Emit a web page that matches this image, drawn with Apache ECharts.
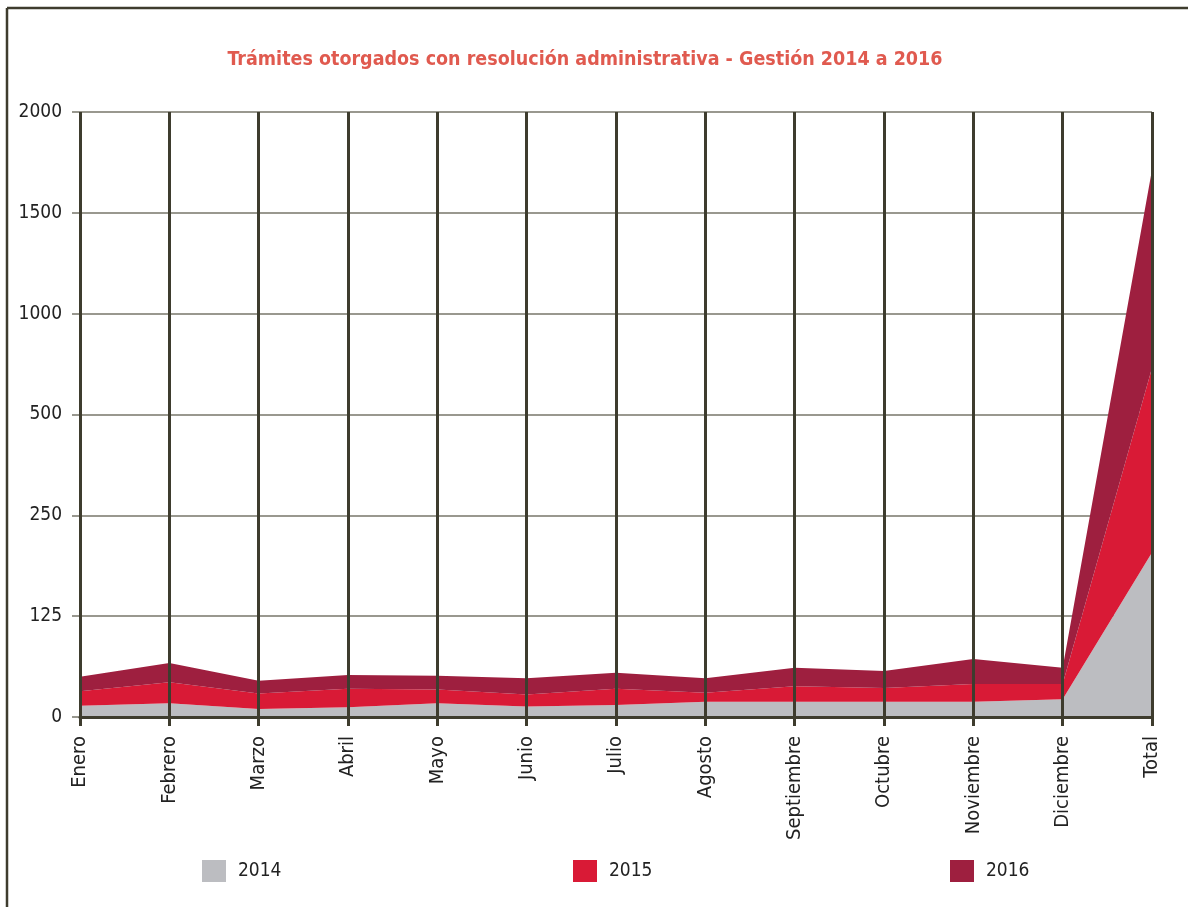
<!DOCTYPE html>
<html>
<head>
<meta charset="utf-8">
<script src="https://cdn.jsdelivr.net/npm/echarts@6/dist/echarts.min.js"></script>
<style>
  html, body { margin: 0; padding: 0; background: #fff; }
  #box { width: 1188px; height: 907px; }
</style>
</head>
<body>
<div id="box"></div>
<script>
var meses = ['Enero', 'Febrero', 'Marzo', 'Abril', 'Mayo', 'Junio', 'Julio', 'Agosto',
    'Septiembre', 'Octubre', 'Noviembre', 'Diciembre', 'Total']

// valores de cada año (banda apilada)
var v2014 = [14, 17, 10, 12, 17, 13, 15, 19, 19, 19, 19, 22, 204]
var v2015 = [18, 26, 19, 23, 17, 15, 20, 11, 19, 17, 22, 19, 526]
var v2016 = [18, 24, 16, 17, 17, 20, 20, 18, 23, 21, 31, 20, 984]

// marcas del eje vertical (no lineal, espaciado igual)
var ticksY = [0, 125, 250, 500, 1000, 1500, 2000]

var fuente = "'Liberation Sans Narrow', 'DejaVu Sans Condensed', sans-serif"

// valor -> posicion en el eje por tramos
function escala(v) {
    for (var i = 1; i < ticksY.length; i++) {
        if (v <= ticksY[i]) {
            return (i - 1) + (v - ticksY[i - 1]) / (ticksY[i] - ticksY[i - 1])
        }
    }
    return ticksY.length - 1
}

var s1 = [], s2 = [], s3 = []
for (var i = 0; i < meses.length; i++) {
    var a = v2014[i], b = a + v2015[i], c = b + v2016[i]
    s1.push(escala(a))
    s2.push(escala(b) - escala(a))
    s3.push(escala(c) - escala(b))
}

function serie(nombre, datos, color) {
    return {
        name: nombre,
        type: 'line',
        stack: 'total',
        data: datos,
        symbol: 'none',
        lineStyle: { width: 0 },
        itemStyle: { color: color },
        areaStyle: { color: color, opacity: 1 }
    }
}

function leyenda(nombre, x) {
    return {
        data: [nombre],
        left: x,
        top: 860,
        padding: 0,
        itemWidth: 24,
        itemHeight: 22,
        icon: 'rect',
        textStyle: { color: '#222', fontSize: 19, fontFamily: fuente, padding: [0, 0, 0, 7] }
    }
}

var chart = echarts.init(document.getElementById('box'))

chart.setOption({
    animation: false,
    title: {
        text: 'Trámites otorgados con resolución administrativa - Gestión 2014 a 2016',
        left: 580,
        textAlign: 'center',
        top: 45,
        textStyle: { color: '#e05a4f', fontSize: 19.5, fontWeight: 'bold', fontFamily: fuente }
    },
    legend: [
        leyenda('2014', 202),
        leyenda('2015', 573),
        leyenda('2016', 950)
    ],
    grid: {
        left: 80,
        right: 36,
        top: 112,
        bottom: 190
    },
    xAxis: {
        type: 'category',
        data: meses,
        boundaryGap: false,
        z: 10,
        axisLine: { lineStyle: { color: '#3e3c2e', width: 3 } },
        axisTick: { show: true, length: 9, lineStyle: { color: '#3e3c2e', width: 3 } },
        splitLine: { show: true, lineStyle: { color: '#3e3c2e', width: 3 } },
        axisLabel: {
            rotate: 90,
            margin: 19,
            color: '#222',
            fontSize: 20,
            fontFamily: fuente,
            interval: 0
        }
    },
    yAxis: {
        type: 'value',
        min: 0,
        max: ticksY.length - 1,
        interval: 1,
        axisLine: { show: false },
        axisTick: { show: true, length: 8, lineStyle: { color: '#77766a', width: 1.5 } },
        splitLine: { lineStyle: { color: '#77766a', width: 1.5 } },
        axisLabel: {
            margin: 18,
            color: '#222',
            fontSize: 19,
            fontFamily: fuente,
            formatter: function (v) { return ticksY[Math.round(v)] }
        }
    },
    graphic: [
        { type: 'line', shape: { x1: 7, y1: 8, x2: 7, y2: 907 }, style: { stroke: '#3e3c2e', lineWidth: 2.5 } },
        { type: 'line', shape: { x1: 7, y1: 8, x2: 1188, y2: 8 }, style: { stroke: '#3e3c2e', lineWidth: 2.5 } }
    ],
    series: [
        serie('2014', s1, '#bcbdc1'),
        serie('2015', s2, '#d91a36'),
        serie('2016', s3, '#9e1f3f')
    ]
})
</script>
</body>
</html>
